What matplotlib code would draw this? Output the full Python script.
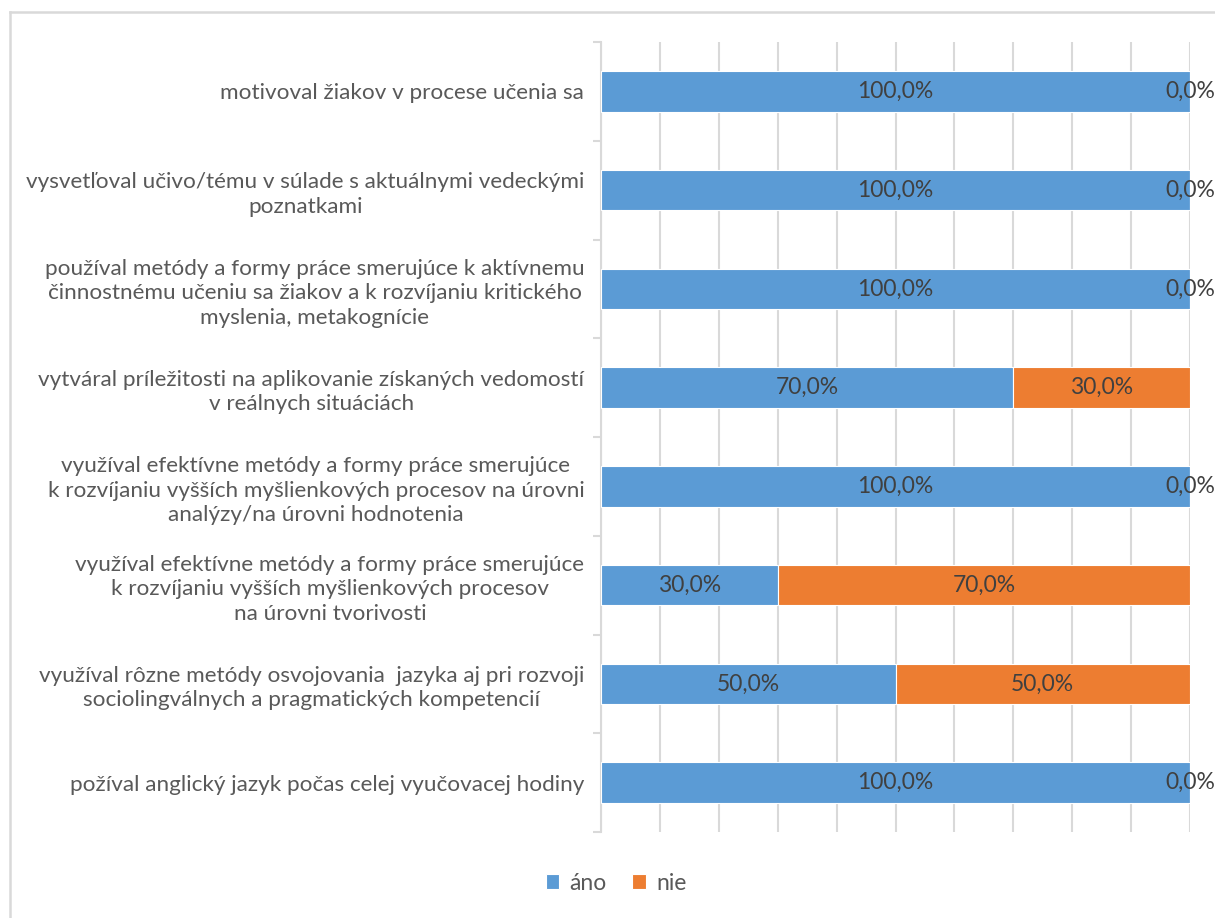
import matplotlib.pyplot as plt
from matplotlib.lines import Line2D

plt.rcParams['font.family'] = ['Lato', 'DejaVu Sans']

kategorie = [
    "motivoval žiakov v procese učenia sa",
    "vysvetľoval učivo/tému v súlade s aktuálnymi vedeckými\npoznatkami",
    "používal metódy a formy práce smerujúce k aktívnemu\nčinnostnému učeniu sa žiakov a k rozvíjaniu kritického\nmyslenia, metakognície",
    "vytváral príležitosti na aplikovanie získaných vedomostí\nv reálnych situáciách",
    "využíval efektívne metódy a formy práce smerujúce\nk rozvíjaniu vyšších myšlienkových procesov na úrovni\nanalýzy/na úrovni hodnotenia",
    "využíval efektívne metódy a formy práce smerujúce\nk rozvíjaniu vyšších myšlienkových procesov\nna úrovni tvorivosti",
    "využíval rôzne metódy osvojovania  jazyka aj pri rozvoji\nsociolingválnych a pragmatických kompetencií",
    "požíval anglický jazyk počas celej vyučovacej hodiny",
]
ano = [1.0, 1.0, 1.0, 0.7, 1.0, 0.3, 0.5, 1.0]
nie = [0.0, 0.0, 0.0, 0.3, 0.0, 0.7, 0.5, 0.0]

modra = "#5B9BD5"
oranzova = "#ED7D31"
seda = "#D9D9D9"

fig = plt.figure(figsize=(12.15, 9.18), dpi=100)
ax = fig.add_axes([601 / 1215, 1 - 832 / 918, 589 / 1215, 790 / 918])

y = list(range(len(kategorie)))
b1 = ax.barh(y, ano, height=0.41, color=modra, edgecolor="white", linewidth=0.8, label="áno", zorder=3)
b2 = ax.barh(y, nie, left=ano, height=0.41, color=oranzova, edgecolor="white", linewidth=0.8, label="nie", zorder=3)

def fmt(v):
    return ("%.1f%%" % (v * 100)).replace(".", ",")

ax.bar_label(b1, labels=[fmt(v) for v in ano], label_type="center", color="#404040", fontsize=16.5, zorder=4)
ax.bar_label(b2, labels=[fmt(v) for v in nie], label_type="center", color="#404040", fontsize=16.5, zorder=4)

ax.set_xlim(0, 1)
ax.set_ylim(len(kategorie) - 0.5, -0.5)
ax.set_xticks([i / 10 for i in range(11)])
ax.tick_params(axis="x", length=0, labelbottom=False)
ax.grid(axis="x", color=seda, linewidth=1.5, zorder=0)

ax.set_yticks([i - 0.5 for i in range(len(kategorie) + 1)])
ax.set_yticklabels([])
ax.tick_params(axis="y", which="major", length=6, width=1.5, color=seda)
ax.set_yticks(y, kategorie, minor=True)
ax.tick_params(axis="y", which="minor", length=0, pad=12, labelsize=16.2, labelcolor="#595959")
for t in ax.get_yticklabels(minor=True):
    t.set_multialignment("center")
    t.set_linespacing(1.28)

for s in ["top", "right", "bottom"]:
    ax.spines[s].set_visible(False)
ax.spines["left"].set_color(seda)
ax.spines["left"].set_linewidth(1.5)

fig.legend(loc="center", bbox_to_anchor=(0.507, 1 - 883 / 918), ncol=2, frameon=False,
           handlelength=0.6, handleheight=0.6, handletextpad=0.45, columnspacing=1.1,
           fontsize=16.5, labelcolor="#595959")

# okraj grafu
fig.add_artist(Line2D([10 / 1215, 1], [1 - 12 / 918, 1 - 12 / 918], color=seda, linewidth=1.8))
fig.add_artist(Line2D([10 / 1215, 10 / 1215], [0, 1 - 12 / 918], color=seda, linewidth=1.8))

plt.savefig("out.png")
